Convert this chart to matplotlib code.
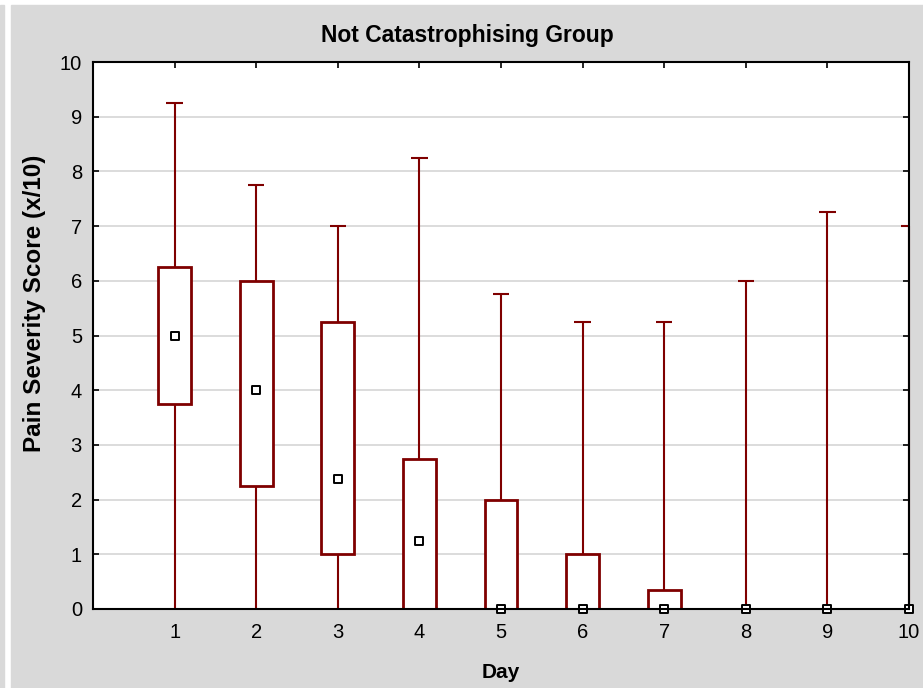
import matplotlib.pyplot as plt
from matplotlib.patches import Rectangle

plt.rcParams['font.family'] = ['Liberation Sans', 'DejaVu Sans']

days = [1, 2, 3, 4, 5, 6, 7, 8, 9, 10]
mins = [0, 0, 0, 0, 0, 0, 0, 0, 0, 0]
q1 = [3.75, 2.25, 1.0, 0, 0, 0, 0, 0, 0, 0]
medians = [5.0, 4.0, 2.375, 1.25, 0, 0, 0, 0, 0, 0]
q3 = [6.25, 6.0, 5.25, 2.75, 2.0, 1.0, 0.35, 0, 0, 0]
maxs = [9.25, 7.75, 7.0, 8.25, 5.75, 5.25, 5.25, 6.0, 7.25, 7.0]

red = '#7f0000'
grey = '#d9d9d9'
W, H = 923, 688

fig = plt.figure(figsize=(9.23, 6.88), dpi=100)
fig.patches.append(Rectangle((11 / W, 0), 1 - 11 / W, 1 - 5 / H,
                             transform=fig.transFigure, color=grey, zorder=-10))
fig.patches.append(Rectangle((0, 0), 4 / W, 1 - 5 / H,
                             transform=fig.transFigure, color=grey, zorder=-10))

ax = fig.add_axes([93 / W, 1 - 609 / H, (909 - 93) / W, (609 - 62) / H])
ax.set_xlim(0, 10)
ax.set_ylim(0, 10)

ax.grid(axis='y', color='#d6d6d6', linewidth=1.2, zorder=0)
ax.set_axisbelow(True)

# whiskers and caps
ax.vlines(days, mins, maxs, color=red, linewidth=1.5, zorder=2, clip_on=False)
ax.hlines(maxs, [d - 0.1 for d in days], [d + 0.1 for d in days],
          color=red, linewidth=1.5, zorder=2)

# boxes
heights = [b - a for a, b in zip(q1, q3)]
ax.bar(days, heights, bottom=q1, width=0.4, color='white', edgecolor=red,
       linewidth=2, zorder=3)

# medians
ax.scatter(days, medians, marker='s', s=28, facecolor='white',
           edgecolor='black', linewidth=1.4, zorder=4, clip_on=False)

ax.set_xticks(days)
ax.set_yticks(range(0, 11))
ax.tick_params(direction='in', length=4, width=1.2, labelsize=14.5,
               top=True, right=True, color='black')
ax.tick_params(axis='x', pad=10)
ax.tick_params(axis='y', pad=8)
for s in ax.spines.values():
    s.set_linewidth(1.5)
    s.set_zorder(5)

fig.text(467 / W, 1 - 42 / H, 'Not Catastrophising Group', fontsize=16.5,
         fontweight='bold', ha='center', va='baseline')
fig.text(501 / W, 1 - 678 / H, 'Day', fontsize=15, fontweight='bold',
         ha='center', va='baseline')
fig.text(35 / W, 1 - 303 / H, 'Pain Severity Score (x/10)', fontsize=17.5,
         fontweight='bold', rotation=90, ha='center', va='center')

plt.savefig('out.png', dpi=100)
